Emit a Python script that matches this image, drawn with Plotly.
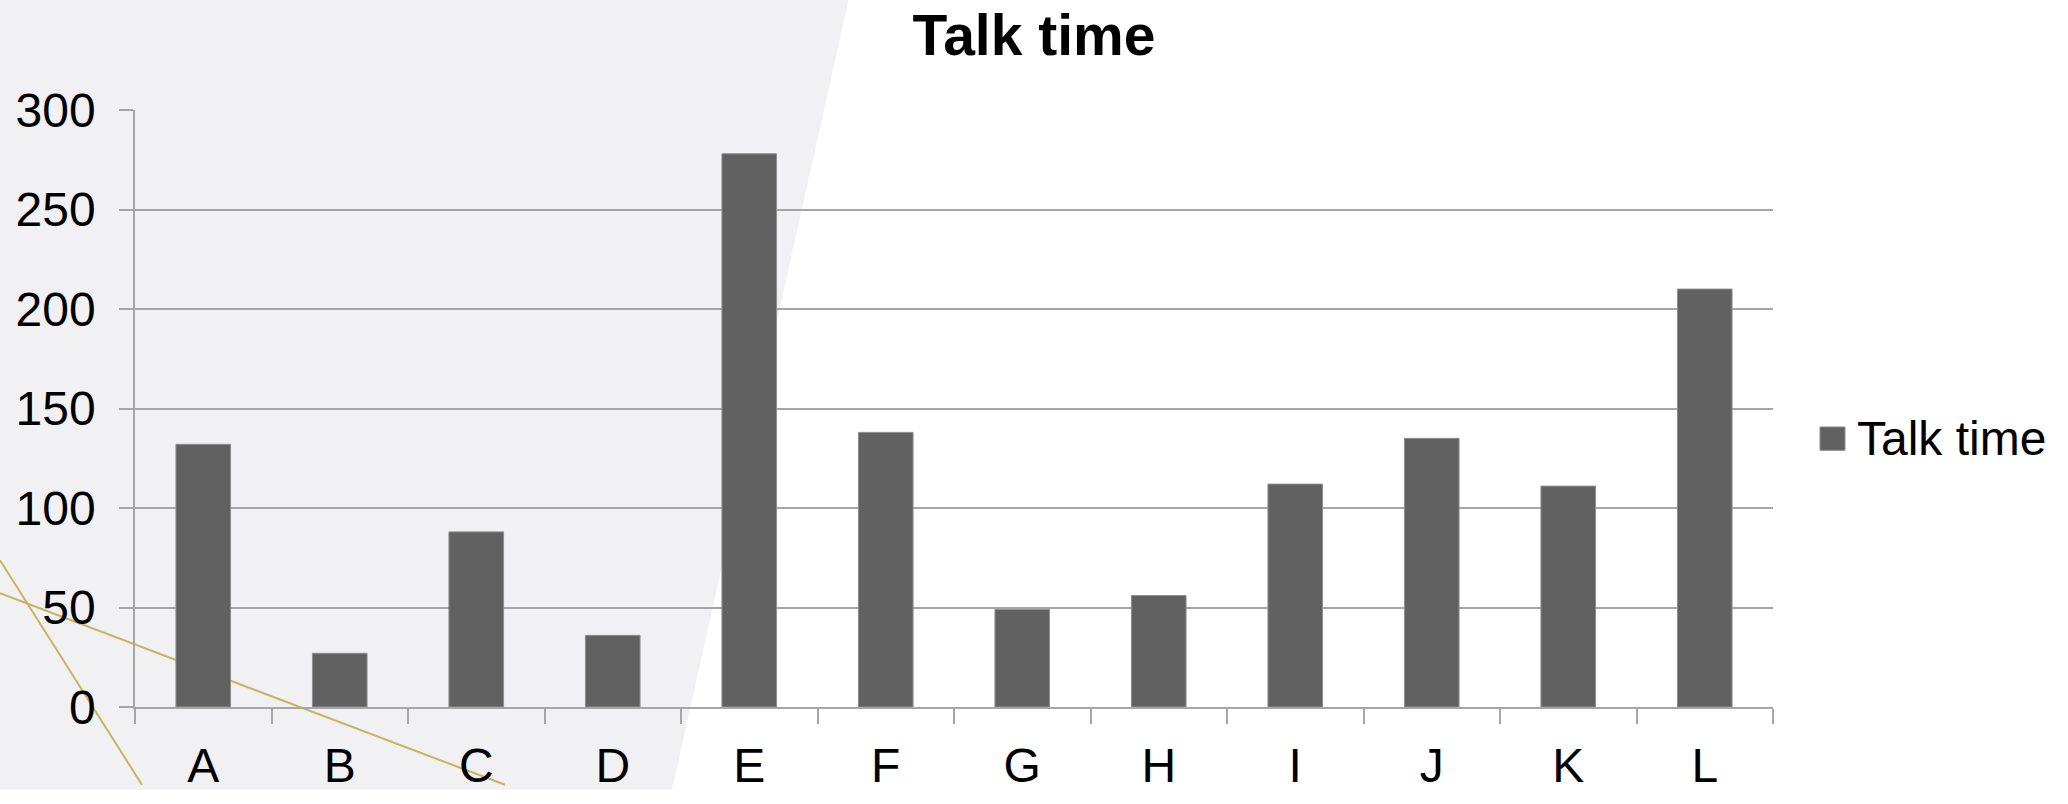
import plotly.graph_objects as go

categories = ["A", "B", "C", "D", "E", "F", "G", "H", "I", "J", "K", "L"]
talk_time = [132, 27, 88, 36, 278, 138, 49, 56, 112, 135, 111, 210]
y_ticks = [0, 50, 100, 150, 200, 250, 300]
series_name = "Talk time"

W, H = 2068, 804
L, R, T, B = 135, 1773, 110, 724
PW, PH = R - L, B - T


def px(x):
    return (x - L) / PW


def py(y):
    return (B - y) / PH


FONT = "Liberation Sans, Arial, sans-serif"
GRID = "#a6a6a6"

fig = go.Figure()
fig.add_trace(go.Bar(
    x=categories, y=talk_time, name=series_name,
    marker=dict(color="#616161", line=dict(color="#8e8e8e", width=1)),
    showlegend=False,
))

shapes = [
    # light grey slanted background panel
    dict(type="path", xref="paper", yref="paper", layer="below",
         path=f"M {px(-5)},{py(-5)} L {px(849)},{py(-5)} L {px(672)},{py(809)} L {px(-5)},{py(809)} Z",
         fillcolor="#f1f1f3", line=dict(width=0)),
    # decorative tan lines
    dict(type="line", xref="paper", yref="paper", layer="below",
         x0=px(0), y0=py(607), x1=px(505), y1=py(804),
         line=dict(color="#c8b45e", width=2)),
    dict(type="line", xref="paper", yref="paper", layer="below",
         x0=px(0), y0=py(573), x1=px(142), y1=py(804),
         line=dict(color="#c8b45e", width=2)),
    # legend swatch
    dict(type="rect", xref="paper", yref="paper",
         x0=px(1820), y0=py(436), x1=px(1845), y1=py(460),
         fillcolor="#616161", line=dict(color="#8e8e8e", width=1)),
]

annotations = [
    dict(text=series_name, xref="paper", yref="paper", x=px(1855), y=py(448),
         xanchor="left", yanchor="middle", showarrow=False,
         font=dict(family=FONT, size=48, color="black")),
]

fig.update_layout(
    width=W, height=H,
    margin=dict(l=L, r=W - R, t=T, b=H - B, pad=0),
    paper_bgcolor="white",
    plot_bgcolor="rgba(0,0,0,0)",
    title=dict(text="<b>Talk time</b>", x=0.5, xref="container", xanchor="center",
               y=1 - 35 / H, yref="container", yanchor="middle",
               font=dict(family=FONT, size=57, color="black")),
    font=dict(family=FONT, size=48, color="black"),
    bargap=0.6,
    shapes=shapes,
    annotations=annotations,
    showlegend=False,
    xaxis=dict(
        showline=True, linecolor=GRID, linewidth=2,
        ticks="outside", tickson="boundaries", ticklen=15, tickcolor=GRID, tickwidth=1.5,
        showgrid=False, tickfont=dict(family=FONT, size=48, color="black"),
        ticklabelstandoff=15,
    ),
    yaxis=dict(
        range=[0, 300], tickvals=y_ticks,
        showline=True, linecolor=GRID, linewidth=1.5,
        ticks="outside", ticklen=14, tickcolor=GRID, tickwidth=1.5,
        showgrid=True, gridcolor=GRID, gridwidth=1.5, zeroline=False,
        tickfont=dict(family=FONT, size=48, color="black"),
        ticklabelstandoff=14,
    ),
)

fig.write_html(
    "out.html",
    config={"displayModeBar": False},
    post_script="document.body.style.margin='0';document.body.style.overflow='hidden';",
)
